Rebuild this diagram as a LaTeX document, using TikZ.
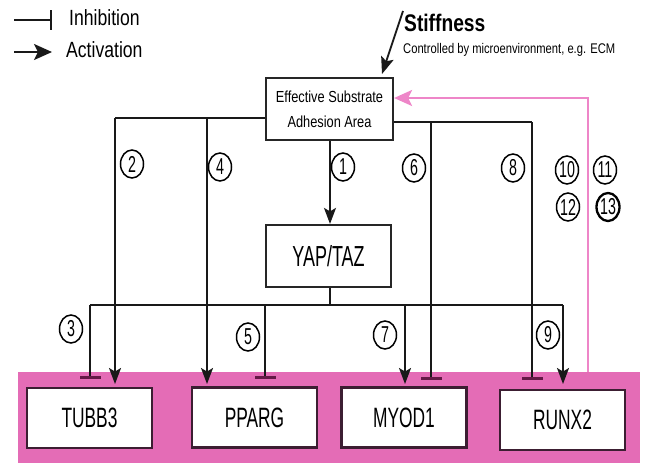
\documentclass[tikz,border=0pt]{standalone}
\usepackage{fontspec}
\setmainfont{Liberation Sans}[FakeStretch=0.8]
\newfontfamily\gfont{Liberation Sans}[FakeStretch=0.62]
\usetikzlibrary{arrows.meta,shapes.geometric}
\definecolor{bandpink}{RGB}{228,108,182}
\definecolor{linkpink}{RGB}{238,134,200}
\definecolor{boxedge}{RGB}{60,30,50}
\definecolor{barcol}{RGB}{100,25,70}
\tikzset{
  x=1pt, y=-1pt,
  wire/.style={line width=1.8pt, black!90},
  act/.style={wire, -{Stealth[length=16pt,width=12pt,inset=3.5pt]}},
  inh/.style={wire, -{Bar[width=21pt,line width=2.8pt,color=barcol]}},
  gene/.style={draw=boxedge, line width=2.2pt, fill=white, minimum width=125pt, minimum height=60pt, inner sep=0pt, font=\gfont\fontsize{28}{30}\selectfont},
  mainbox/.style={draw=black!85, line width=2.2pt, fill=white, inner sep=0pt},
  num/.style={draw, ellipse, line width=1.5pt, minimum width=23pt, minimum height=28pt, inner sep=0pt, font=\gfont\fontsize{23}{23}\selectfont},
  legtext/.style={anchor=west, font=\fontsize{22}{24}\selectfont, inner sep=0pt}
}
\begin{document}
\begin{tikzpicture}
\useasboundingbox (0,0) rectangle (645,466);
% pink band
\fill[bandpink] (18,372) rectangle (640,463);

% legend
\coordinate (li1) at (14,20); \coordinate (li2) at (52,20);
\coordinate (la1) at (14,52); \coordinate (la2) at (52,52);
\draw[wire, line width=2.2pt, -{Bar[width=20pt,line width=2.5pt]}] (li1) -- (li2);
\draw[wire, line width=2.2pt, -{Stealth[length=18pt,width=16pt,inset=4pt]}] (la1) -- (la2);
\node[legtext] (tinh) at (69,18) {Inhibition};
\node[legtext] (tact) at (66,50) {Activation};

% stiffness
\node[anchor=west, inner sep=0pt, font=\bfseries\fontsize{24}{26}\selectfont] (stf) at (404,23) {Stiffness};
\node[anchor=west, inner sep=0pt, font=\fontsize{14}{16}\selectfont] (ctl) at (403,50) {Controlled by microenvironment, e.g. ECM};
\coordinate (stfa) at (403,11);
\coordinate (stfb) at (382,74);
\draw[wire, -{Stealth[length=17pt,width=13pt,inset=3.5pt]}] (stfa) -- (stfb);

% main boxes
\node[mainbox, minimum width=127pt, minimum height=62pt, align=center, font=\fontsize{16}{25}\selectfont] (esa) at (329.5,109) {Effective Substrate\\Adhesion Area};
\node[mainbox, minimum width=125pt, minimum height=62pt, font=\gfont\fontsize{29}{31}\selectfont] (yap) at (328.5,256) {YAP/TAZ};

% gene boxes
\node[gene] (tubb) at (89.5,418) {TUBB3};
\node[gene] (pparg) at (254.5,417.5) {PPARG};
\node[gene] (myod) at (404,417.5) {MYOD1};
\node[gene] (runx) at (562.5,420) {RUNX2};

% coordinates
\coordinate (lj) at (115,118);
\coordinate (lk) at (207,118);
\coordinate (rj) at (532,122);
\coordinate (rk) at (431,122);
\coordinate (yj) at (330,305);
\coordinate (ya) at (90,305);
\coordinate (yb) at (265,305);
\coordinate (yc) at (405,305);
\coordinate (yd) at (563,305);

% ESA -> top branches
\draw[wire] (esa.west |- lj) -- (lj);
\draw[act] (lj) -- (lj |- 0,384);
\draw[act] (lk) -- (lk |- 0,384);
\draw[wire] (esa.east |- rj) -- (rj);
\draw[inh] (rk) -- (rk |- 0,380);
\draw[inh] (rj) -- (rj |- 0,380);
\draw[act] (esa.south -| 330,0) -- (yap.north -| 330,0);

% YAP branches
\draw[wire] (yap.south -| yj) -- (yj);
\draw[wire] (ya) -- (yd);
\draw[inh] (ya) -- (ya |- 0,379);
\draw[inh] (yb) -- (yb |- 0,379);
\draw[act] (yc) -- (yc |- 0,384);
\draw[act] (yd) -- (yd |- 0,384);

% pink feedback
\coordinate (pk) at (588,98);
\draw[linkpink, line width=2.6pt, -{Stealth[length=18pt,width=16pt,inset=4pt]}] (588,372) -- (pk) -- (esa.east |- pk);

% numbers
\node[num] (n1) at (343,167) {1};
\node[num] (n2) at (132,164) {2};
\node[num] (n3) at (71,329) {3};
\node[num] (n4) at (220,167) {4};
\node[num] (n5) at (248,337) {5};
\node[num] (n6) at (414,168) {6};
\node[num] (n7) at (385,335) {7};
\node[num] (n8) at (513,168) {8};
\node[num] (n9) at (548,335) {9};
\node[num] (n10) at (567,170) {10};
\node[num] (n11) at (605,170) {11};
\node[num] (n12) at (568,207) {12};
\node[num, line width=2.3pt] (n13) at (608,207) {13};
\end{tikzpicture}
\end{document}
